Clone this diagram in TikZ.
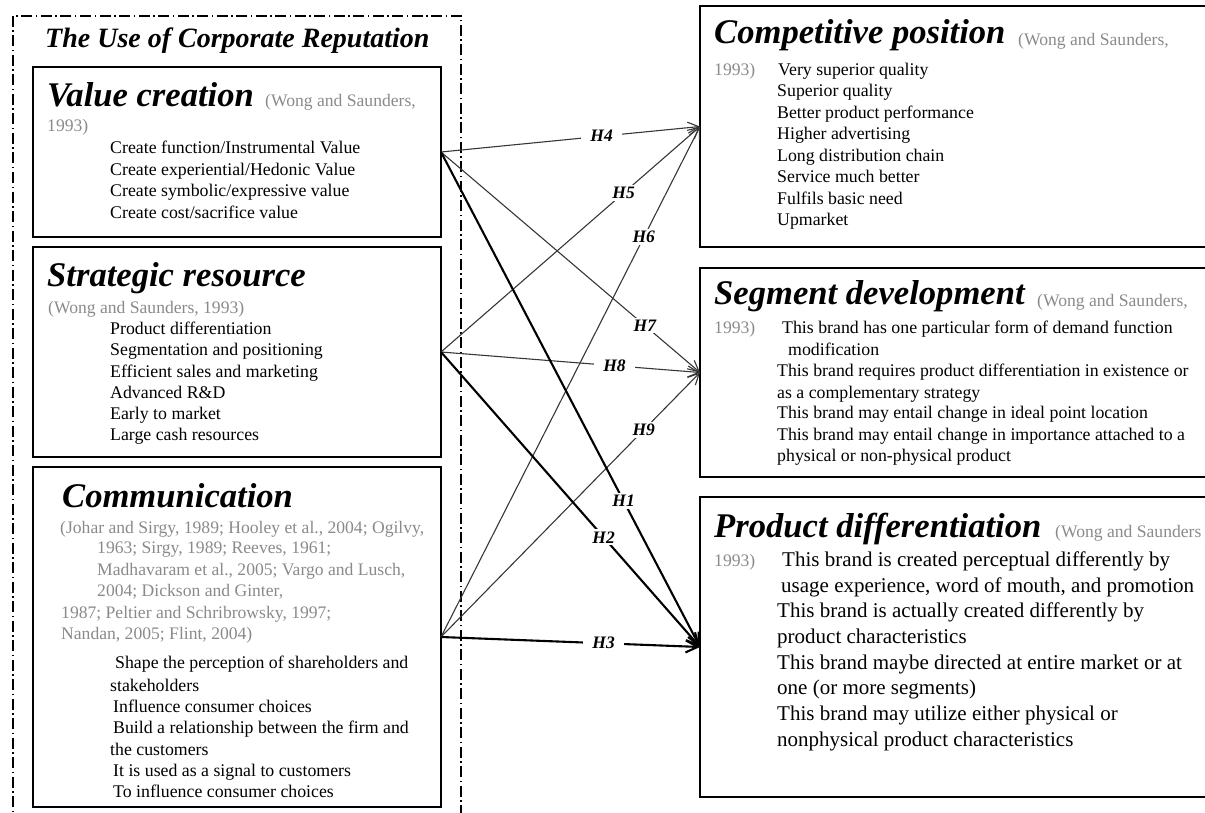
\documentclass[tikz,border=0pt]{standalone}
\usepackage{fontspec}
\setmainfont{Liberation Serif}
\usetikzlibrary{arrows.meta}
\definecolor{citegray}{RGB}{138,138,138}
\definecolor{inkgray}{RGB}{55,55,55}
\begin{document}
\begin{tikzpicture}[x=1pt,y=-1pt,
  box/.style={draw=black, line width=2.8pt, rectangle, outer sep=0pt, inner sep=0pt, anchor=north west},
  framebox/.style={draw=black, line width=1.3pt, dash pattern=on 11pt off 3.5pt on 1.5pt off 3.5pt,
    rectangle, outer sep=0pt, inner sep=0pt, anchor=north west},
  title/.style={anchor=base west, inner sep=0pt, font=\fontsize{28}{33}\selectfont\bfseries\itshape},
  head/.style={anchor=base west, inner sep=0pt, font=\fontsize{34.6}{40}\selectfont\bfseries\itshape},
  cite/.style={anchor=base west, inner sep=0pt, text=citegray, font=\fontsize{17.6}{21}\selectfont},
  body/.style={anchor=base west, inner sep=0pt, font=\fontsize{17.8}{21}\selectfont},
  bigbody/.style={anchor=base west, inner sep=0pt, font=\fontsize{21}{25}\selectfont},
  hlab/.style={fill=white, inner xsep=9pt, inner ysep=2pt, font=\fontsize{17.5}{20}\selectfont\bfseries\itshape},
  thinarrow/.style={draw=inkgray, line width=1.1pt, -{Straight Barb[length=11pt,width=11pt]}},
  thickarrow/.style={draw=black, line width=2.1pt, -{Straight Barb[length=12pt,width=12pt]}}
]
\useasboundingbox (0,0) rectangle (1205,813);
\clip (0,0) rectangle (1205,813);

% outer dash-dot frame and its title
\node[framebox, minimum width=448pt, minimum height=820pt] (frame) at (13,16) {};
\node[title] (ttl) at (45,48) {The Use of Corporate Reputation};

% left-hand boxes
\node[box, minimum width=408pt, minimum height=170pt] (vc) at (33,67) {};
\node[box, minimum width=408pt, minimum height=210pt] (sr) at (33,247) {};
\node[box, minimum width=408pt, minimum height=340pt] (cm) at (33,467) {};

% right-hand boxes
\node[box, minimum width=520pt, minimum height=241pt] (cp) at (700,6) {};
\node[box, minimum width=520pt, minimum height=209pt] (sd) at (700,268) {};
\node[box, minimum width=520pt, minimum height=300pt] (pd) at (700,497) {};

% Value creation
\node[head] (vc-h) at (47,107) {Value creation};
\node[cite] (vc-c) at (265,107) {(Wong and Saunders,};
\node[cite] (vc-y) at (47,132) {1993)};
\node[body] (vc-1) at (110,154) {Create function/Instrumental Value};
\node[body] (vc-2) at (110,175.5) {Create experiential/Hedonic Value};
\node[body] (vc-3) at (110,197) {Create symbolic/expressive value};
\node[body] (vc-4) at (110,218.5) {Create cost/sacrifice value};

% Strategic resource
\node[head] (sr-h) at (47,286) {Strategic resource};
\node[cite] (sr-c) at (48,313) {(Wong and Saunders, 1993)};
\node[body] (sr-1) at (110,334.5) {Product differentiation};
\node[body] (sr-2) at (110,355.5) {Segmentation and positioning};
\node[body] (sr-3) at (110,377) {Efficient sales and marketing};
\node[body] (sr-4) at (110,398.5) {Advanced R\&D};
\node[body] (sr-5) at (110,419) {Early to market};
\node[body] (sr-6) at (110,440.5) {Large cash resources};

% Communication
\node[head] (cm-h) at (62,507) {Communication};
\node[cite] (cm-c1) at (60,533) {(Johar and Sirgy, 1989; Hooley et al., 2004; Ogilvy,};
\node[cite] (cm-c2) at (97,553.5) {1963; Sirgy, 1989; Reeves, 1961;};
\node[cite] (cm-c3) at (97,575) {Madhavaram et al., 2005; Vargo and Lusch,};
\node[cite] (cm-c4) at (97,596.5) {2004; Dickson and Ginter,};
\node[cite] (cm-c5) at (61,618) {1987; Peltier and Schribrowsky, 1997;};
\node[cite] (cm-c6) at (61,639) {Nandan, 2005; Flint, 2004)};
\node[body] (cm-1) at (115,668.5) {Shape the perception of shareholders and};
\node[body] (cm-2) at (110,691) {stakeholders};
\node[body] (cm-3) at (113,712) {Influence consumer choices};
\node[body] (cm-4) at (113,733.5) {Build a relationship between the firm and};
\node[body] (cm-5) at (110,755.5) {the customers};
\node[body] (cm-6) at (113,776.5) {It is used as a signal to customers};
\node[body] (cm-7) at (113,797.5) {To influence consumer choices};

% Competitive position
\node[head] (cp-h) at (714,44) {Competitive position};
\node[cite] (cp-c) at (1018,46) {(Wong and Saunders,};
\node[cite] (cp-y) at (714,75.5) {1993)};
\node[body] (cp-1) at (778,75.5) {Very superior quality};
\node[body] (cp-2) at (777,97) {Superior quality};
\node[body] (cp-3) at (777,118.5) {Better product performance};
\node[body] (cp-4) at (777,140) {Higher advertising};
\node[body] (cp-5) at (777,161.5) {Long distribution chain};
\node[body] (cp-6) at (777,183) {Service much better};
\node[body] (cp-7) at (777,204.5) {Fulfils basic need};
\node[body] (cp-8) at (777,225.5) {Upmarket};

% Segment development
\node[head] (sd-h) at (714,304) {Segment development};
\node[cite] (sd-c) at (1037,306) {(Wong and Saunders,};
\node[cite] (sd-y) at (714,333) {1993)};
\node[body] (sd-1) at (782,333) {This brand has one particular form of demand function};
\node[body] (sd-2) at (788,355) {modification};
\node[body] (sd-3) at (777,376.5) {This brand requires product differentiation in existence or};
\node[body] (sd-4) at (777,398) {as a complementary strategy};
\node[body] (sd-5) at (777,418.5) {This brand may entail change in ideal point location};
\node[body] (sd-6) at (777,440) {This brand may entail change in importance attached to a};
\node[body] (sd-7) at (777,461) {physical or non-physical product};

% Product differentiation
\node[head] (pd-h) at (714,537) {Product differentiation};
\node[cite] (pd-c) at (1055,537) {(Wong and Saunders};
\node[cite] (pd-y) at (714,566) {1993)};
\node[bigbody] (pd-1) at (782,566.5) {This brand is created perceptual differently by};
\node[bigbody] (pd-2) at (781,592) {usage experience, word of mouth, and promotion};
\node[bigbody] (pd-3) at (777,617) {This brand is actually created differently by};
\node[bigbody] (pd-4) at (777,643) {product characteristics};
\node[bigbody] (pd-5) at (777,669) {This brand maybe directed at entire market or at};
\node[bigbody] (pd-6) at (777,694.5) {one (or more segments)};
\node[bigbody] (pd-7) at (777,720.5) {This brand may utilize either physical or};
\node[bigbody] (pd-8) at (777,746) {nonphysical product characteristics};

% hypothesised links
\draw[thinarrow] (vc.east) -- node[hlab, pos=0.62] (lh4) {H4} (cp.west);
\draw[thinarrow] (sr.east) -- node[hlab, pos=0.705] (lh5) {H5} (cp.west);
\draw[thinarrow] (cm.east) -- node[hlab, pos=0.783] (lh6) {H6} (cp.west);
\draw[thinarrow] (vc.east) -- node[hlab, pos=0.787] (lh7) {H7} (sd.west);
\draw[thinarrow] (sr.east) -- node[hlab, pos=0.67] (lh8) {H8} (sd.west);
\draw[thinarrow] (cm.east) -- node[hlab, pos=0.783] (lh9) {H9} (sd.west);
\draw[thickarrow] (vc.east) -- node[hlab, pos=0.705] (lh1) {H1} (pd.west);
\draw[thickarrow] (sr.east) -- node[hlab, pos=0.628] (lh2) {H2} (pd.west);
\draw[thickarrow] (cm.east) -- node[hlab, pos=0.628] (lh3) {H3} (pd.west);
\end{tikzpicture}
\end{document}
